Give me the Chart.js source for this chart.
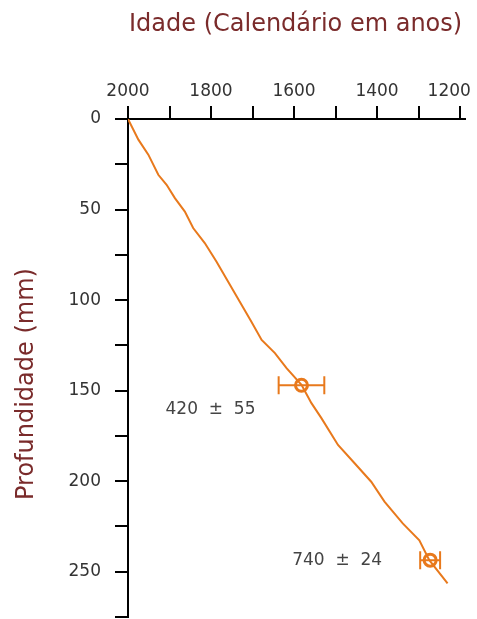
<!DOCTYPE html>
<html>
<head>
<meta charset="utf-8">
<script src="https://cdn.jsdelivr.net/npm/chart.js@4/dist/chart.umd.min.js"></script>
<style>
  html, body { margin: 0; padding: 0; background: #fff; }
  #c { display: block; }
</style>
</head>
<body>
<canvas id="c" width="477" height="619"></canvas>
<script>
// ---- data ----
const titleText = 'Idade (Calendário em anos)';
const yTitleText = 'Profundidade (mm)';
const lineYears  = [2000, 1975, 1951, 1927, 1907, 1887, 1863, 1843, 1815, 1787, 1759, 1731, 1703, 1678, 1646, 1618, 1582, 1558, 1534, 1494, 1454, 1414, 1382, 1338, 1298, 1274, 1230];
const lineDepths = [0, 11.4, 19.7, 30.8, 36.3, 43.7, 51.1, 60.2, 68.5, 78.7, 89.7, 100.8, 111.8, 122, 129.3, 137.6, 146.8, 156.9, 165.2, 180, 190.1, 200.3, 211.3, 223.3, 232.6, 243.6, 256.4];
const dateYears  = [1582, 1272];
const dateDepths = [147, 243.6];
const dateAges   = [420, 740];
const dateErrors = [55, 24];
const xTickValues = [2000, 1900, 1800, 1700, 1600, 1500, 1400, 1300, 1200];
const yTickValues = [0, 25, 50, 75, 100, 125, 150, 175, 200, 225, 250, 275];

// ---- styles ----
const ORANGE = '#e8791c';
const DARKRED = '#7a2b2b';
const TICKCOLOR = '#333333';
const FONT = 'DejaVu Sans, Verdana, sans-serif';
const labelOffsets = [[-46, 24], [-48, 0]]; // pixel offsets of the text (right edge, middle) from each date marker
const PLOT_BOTTOM_GAP = 2; // px between plot bottom and canvas bottom

const fixLayoutPlugin = {
  id: 'fixLayout',
  afterLayout(chart) {
    const area = chart.chartArea;
    const y = chart.scales.y;
    const bottom = chart.height - PLOT_BOTTOM_GAP;
    area.bottom = bottom;
    area.height = area.bottom - area.top;
    y.bottom = bottom;
    y.height = y.bottom - y.top;
    y.configure();
  }
};

const errorBarsPlugin = {
  id: 'errorBars',
  afterDatasetsDraw(chart) {
    const { ctx, scales: { x, y } } = chart;
    ctx.save();
    ctx.strokeStyle = ORANGE;
    ctx.lineWidth = 2;
    dateYears.forEach((yr, i) => {
      const py = y.getPixelForValue(dateDepths[i]);
      const x1 = x.getPixelForValue(yr + dateErrors[i]);
      const x2 = x.getPixelForValue(yr - dateErrors[i]);
      ctx.beginPath();
      ctx.moveTo(x1, py); ctx.lineTo(x2, py);
      ctx.moveTo(x1, py - 9); ctx.lineTo(x1, py + 9);
      ctx.moveTo(x2, py - 9); ctx.lineTo(x2, py + 9);
      ctx.stroke();
      const px = x.getPixelForValue(yr);
      ctx.fillStyle = '#444';
      ctx.font = '17px ' + FONT;
      ctx.textAlign = 'right';
      ctx.textBaseline = 'middle';
      ctx.fillText(dateAges[i] + '  ±  ' + dateErrors[i], px + labelOffsets[i][0], py + labelOffsets[i][1]);
    });
    ctx.restore();
  },
  afterDraw(chart) {
    const { ctx } = chart;
    ctx.save();
    ctx.fillStyle = DARKRED;
    ctx.font = '24px ' + FONT;
    ctx.textBaseline = 'alphabetic';
    ctx.textAlign = 'left';
    ctx.fillText(titleText, 129, 31);
    ctx.translate(33, 500);
    ctx.rotate(-Math.PI / 2);
    ctx.fillText(yTitleText, 0, 0);
    ctx.restore();
  }
};

new Chart(document.getElementById('c'), {
  type: 'scatter',
  data: {
    datasets: [
      {
        data: lineYears.map((v, i) => ({ x: v, y: lineDepths[i] })),
        showLine: true,
        borderColor: ORANGE,
        borderWidth: 2,
        pointRadius: 0,
        tension: 0,
        order: 2
      },
      {
        data: dateYears.map((v, i) => ({ x: v, y: dateDepths[i] })),
        showLine: false,
        pointRadius: 6,
        pointBorderWidth: 3,
        pointBorderColor: ORANGE,
        pointBackgroundColor: 'rgba(0,0,0,0)',
        order: 1
      }
    ]
  },
  options: {
    responsive: false,
    animation: false,
    events: [],
    layout: { padding: { left: 0, top: 0, right: 12, bottom: 2 } },
    plugins: { legend: { display: false }, tooltip: { enabled: false }, title: { display: false } },
    scales: {
      x: {
        type: 'linear',
        position: 'top',
        reverse: true,
        min: 1188,
        max: 2000,
        afterBuildTicks: s => { s.ticks = xTickValues.map(v => ({ value: v })); },
        afterFit: s => { s.height = 119; s.paddingLeft = 0; s.paddingRight = 0; },
        ticks: {
          autoSkip: false, maxRotation: 0, padding: 4,
          color: TICKCOLOR, font: { family: FONT, size: 17 },
          callback: (v, i, arr) => (v % 200 === 0 ? (i === arr.length - 1 ? String(v) + '    ' : String(v)) : '')
        },
        grid: { drawOnChartArea: false, drawTicks: true, tickLength: 13, color: '#000', lineWidth: 2 },
        border: { display: true, color: '#000', width: 2 }
      },
      y: {
        type: 'linear',
        reverse: true,
        min: 0,
        max: 275,
        afterBuildTicks: s => { s.ticks = yTickValues.map(v => ({ value: v })); },
        afterFit: s => { s.width = 128; s.paddingTop = 0; s.paddingBottom = 0; },
        ticks: {
          autoSkip: false, padding: 14,
          color: TICKCOLOR, font: { family: FONT, size: 17 },
          callback: v => (v % 50 === 0 ? String(v) : '')
        },
        grid: { drawOnChartArea: false, drawTicks: true, tickLength: 13, color: '#000', lineWidth: 2 },
        border: { display: true, color: '#000', width: 2 }
      }
    }
  },
  plugins: [fixLayoutPlugin, errorBarsPlugin]
});
</script>
</body>
</html>
